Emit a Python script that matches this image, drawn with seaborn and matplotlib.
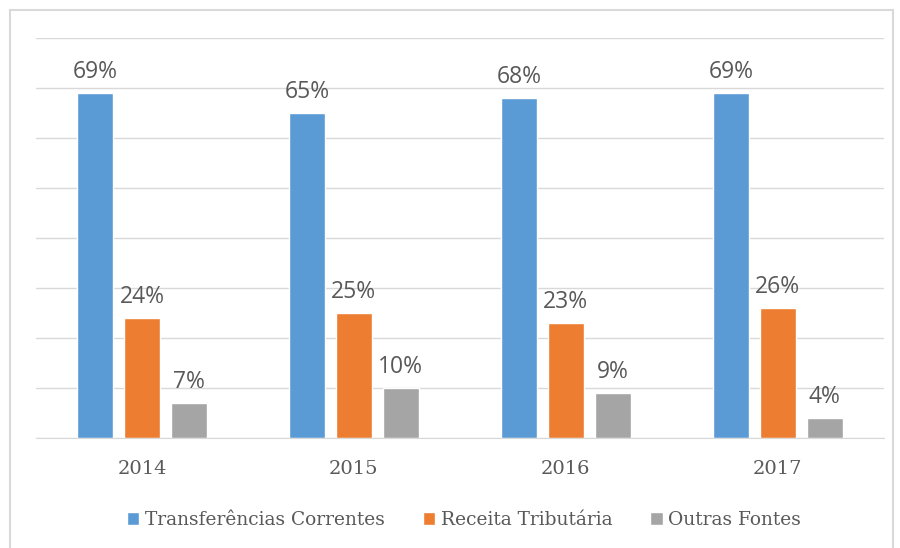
import pandas as pd
import matplotlib.pyplot as plt
import seaborn as sns
from matplotlib.patches import Rectangle

# Data
anos = ["2014", "2015", "2016", "2017"]
transferencias = [69, 65, 68, 69]
receita = [24, 25, 23, 26]
outras = [7, 10, 9, 4]
series = ["Transferências Correntes", "Receita Tributária", "Outras Fontes"]
cores = ["#5B9BD5", "#ED7D31", "#A5A5A5"]

df = pd.DataFrame({
    "ano": anos * 3,
    "valor": transferencias + receita + outras,
    "serie": [series[0]] * 4 + [series[1]] * 4 + [series[2]] * 4,
})

sns.set_style("white")
texto = "#595959"

fig = plt.figure(figsize=(9, 5.48), dpi=100)
ax = fig.add_axes([0.04, 0.2007, 0.942, 0.73])

sns.barplot(data=df, x="ano", y="valor", hue="serie", palette=cores,
            width=0.665, gap=0.23, saturation=1, ax=ax)

for cont in ax.containers:
    ax.bar_label(cont, labels=[f"{v:.0f}%" for v in cont.datavalues],
                 padding=6.5, fontsize=16.5, color=texto, family="Open Sans")

ax.set_ylim(0, 80)
ax.set_xlim(-0.5, 3.5)
ax.set_yticks(range(0, 81, 10))
ax.set_yticklabels([])
ax.tick_params(axis="y", length=0)
ax.tick_params(axis="x", length=0, pad=15.5)
ax.grid(axis="y", color="#D9D9D9", linewidth=1)
ax.set_axisbelow(True)
for s in ["top", "right", "left"]:
    ax.spines[s].set_visible(False)
ax.spines["bottom"].set_color("#D9D9D9")
ax.set_xlabel("")
ax.set_ylabel("")
for lbl in ax.get_xticklabels():
    lbl.set_family("DejaVu Serif")
    lbl.set_fontsize(14)
    lbl.set_color(texto)

ax.legend(loc="center", bbox_to_anchor=(0.505, -0.205), ncol=3, frameon=False,
          handlelength=0.65, handleheight=0.65, handletextpad=0.3, columnspacing=2.05,
          prop={"family": "DejaVu Serif", "size": 13.4}, labelcolor=texto)

fig.patches.append(Rectangle((10 / 900, -0.01), 883 / 900, 1 - 10 / 548 + 0.01,
                             transform=fig.transFigure, fill=False,
                             edgecolor="#D9D9D9", linewidth=1.5))

fig.savefig("out.png", dpi=100)
